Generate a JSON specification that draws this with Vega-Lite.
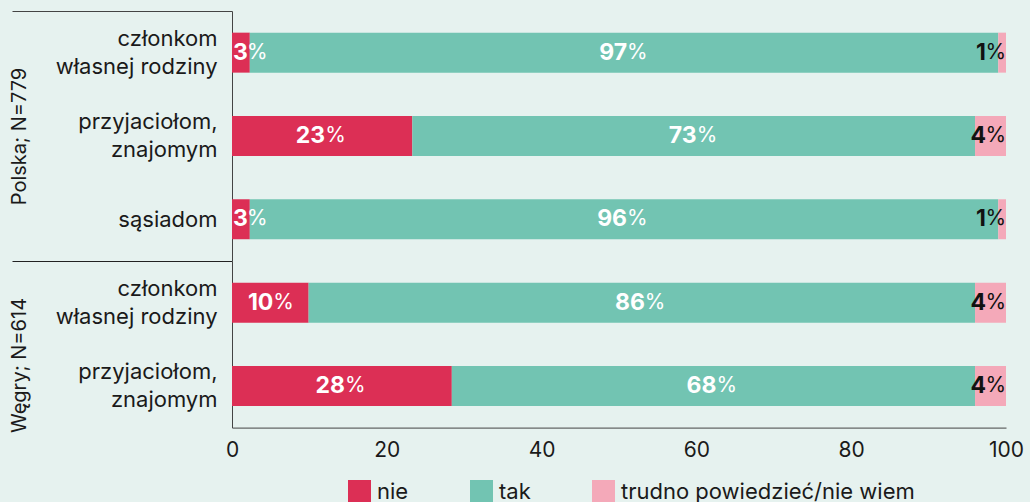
{
  "$schema": "https://vega.github.io/schema/vega-lite/v6.json",
  "background": "#e6f2ef",
  "padding": {"left": 9, "top": 0, "right": 6, "bottom": 0},
  "spacing": 0,
  "bounds": "flush",
  "config": {
    "font": "Inter",
    "view": {"stroke": null},
    "axis": {"grid": false, "labelFont": "Inter", "titleFont": "Inter"},
    "legend": {"labelFont": "Inter"}
  },
  "data": {
    "values": [
      {"country": "Polska", "item": "członkom|własnej rodziny", "resp": "nie", "value": 2.3, "lab": 3},
      {"country": "Polska", "item": "członkom|własnej rodziny", "resp": "tak", "value": 96.7, "lab": 97},
      {"country": "Polska", "item": "członkom|własnej rodziny", "resp": "trudno powiedzieć/nie wiem", "value": 1.0, "lab": 1},
      {"country": "Polska", "item": "przyjaciołom,|znajomym", "resp": "nie", "value": 23.3, "lab": 23},
      {"country": "Polska", "item": "przyjaciołom,|znajomym", "resp": "tak", "value": 72.7, "lab": 73},
      {"country": "Polska", "item": "przyjaciołom,|znajomym", "resp": "trudno powiedzieć/nie wiem", "value": 4.0, "lab": 4},
      {"country": "Polska", "item": "sąsiadom", "resp": "nie", "value": 2.3, "lab": 3},
      {"country": "Polska", "item": "sąsiadom", "resp": "tak", "value": 96.7, "lab": 96},
      {"country": "Polska", "item": "sąsiadom", "resp": "trudno powiedzieć/nie wiem", "value": 1.0, "lab": 1},
      {"country": "Węgry", "item": "członkom|własnej rodziny", "resp": "nie", "value": 9.9, "lab": 10},
      {"country": "Węgry", "item": "członkom|własnej rodziny", "resp": "tak", "value": 86.1, "lab": 86},
      {"country": "Węgry", "item": "członkom|własnej rodziny", "resp": "trudno powiedzieć/nie wiem", "value": 4.0, "lab": 4},
      {"country": "Węgry", "item": "przyjaciołom,|znajomym", "resp": "nie", "value": 28.4, "lab": 28},
      {"country": "Węgry", "item": "przyjaciołom,|znajomym", "resp": "tak", "value": 67.6, "lab": 68},
      {"country": "Węgry", "item": "przyjaciołom,|znajomym", "resp": "trudno powiedzieć/nie wiem", "value": 4.0, "lab": 4}
    ]
  },
  "resolve": {"scale": {"y": "independent", "x": "shared", "color": "shared"}},
  "vconcat": [
    {
      "width": 774,
      "height": {"step": 83.3},
      "transform": [{"filter": "datum.country === 'Polska'"}],
      "encoding": {
        "y": {
          "field": "item", "type": "nominal",
          "sort": ["członkom|własnej rodziny", "przyjaciołom,|znajomym", "sąsiadom"],
          "scale": {"paddingInner": 0, "paddingOuter": 0},
          "axis": {
            "title": "Polska; N=779", "titleFontSize": 20, "titleFontWeight": "normal", "titleColor": "#1a1a1a",
            "minExtent": 203, "maxExtent": 203, "titlePadding": 0,
            "labelFontSize": 22, "labelColor": "#1a1a1a", "labelLineHeight": 28, "labelLimit": 400,
            "labelExpr": "split(datum.label, '|')", "labelPadding": -205,
            "labelOffset": {"condition": {"test": "indexof('' + datum.label, '|') >= 0", "value": -14}, "value": 0},
            "tickBand": "extent", "tickSize": 220, "tickColor": "#444444", "tickWidth": 1,
            "tickOpacity": {"condition": {"test": "datum.index < 0", "value": 1}, "value": 0},
            "domainColor": "#444444"
          }
        }
      },
      "layer": [
        {
          "mark": {"type": "bar", "height": {"band": 0.48}},
          "encoding": {
            "x": {"field": "value", "type": "quantitative", "stack": "zero", "scale": {"domain": [0, 100], "nice": false}, "axis": null},
            "color": {"field": "resp", "type": "nominal",
              "scale": {"domain": ["nie", "tak", "trudno powiedzieć/nie wiem"], "range": ["#dc2f55", "#72c4b2", "#f4a9b9"]},
              "legend": {"orient": "none", "legendX": 116, "legendY": 469, "direction": "horizontal", "title": null, "symbolType": "square", "symbolSize": 529, "symbolStrokeWidth": 0, "labelFontSize": 22, "labelColor": "#1a1a1a", "labelLimit": 500, "columnPadding": 61, "labelOffset": 6}},
            "order": {"field": "resp", "type": "ordinal", "sort": "ascending"}
          }
        },
        {
          "mark": {"type": "text", "fontSize": 23, "fontWeight": "bold", "align": "right", "baseline": "middle", "dx": 3, "color": "white"},
          "encoding": {
            "x": {"field": "value", "type": "quantitative", "stack": "zero", "bandPosition": 0.5, "axis": null},
            "detail": {"field": "resp"},
            "order": {"field": "resp", "type": "ordinal", "sort": "ascending"},
            "text": {"field": "lab", "type": "quantitative"},
            "opacity": {"condition": {"test": "datum.resp === 'tak' || (datum.resp === 'nie' && datum.value >= 5)", "value": 1}, "value": 0}
          }
        },
        {
          "mark": {"type": "text", "fontSize": 21, "fontWeight": "normal", "align": "left", "baseline": "middle", "dx": 3, "color": "white"},
          "encoding": {
            "x": {"field": "value", "type": "quantitative", "stack": "zero", "bandPosition": 0.5, "axis": null},
            "detail": {"field": "resp"},
            "order": {"field": "resp", "type": "ordinal", "sort": "ascending"},
            "text": {"value": "%"},
            "opacity": {"condition": {"test": "datum.resp === 'tak' || (datum.resp === 'nie' && datum.value >= 5)", "value": 1}, "value": 0}
          }
        },
        {
          "mark": {"type": "text", "fontSize": 23, "fontWeight": "bold", "align": "left", "baseline": "middle", "dx": 1, "color": "white"},
          "encoding": {
            "x": {"field": "value", "type": "quantitative", "stack": "zero", "bandPosition": 0, "axis": null},
            "detail": {"field": "resp"},
            "order": {"field": "resp", "type": "ordinal", "sort": "ascending"},
            "text": {"field": "lab", "type": "quantitative"},
            "opacity": {"condition": {"test": "datum.resp === 'nie' && datum.value < 5", "value": 1}, "value": 0}
          }
        },
        {
          "mark": {"type": "text", "fontSize": 21, "fontWeight": "normal", "align": "left", "baseline": "middle", "dx": 15, "color": "white"},
          "encoding": {
            "x": {"field": "value", "type": "quantitative", "stack": "zero", "bandPosition": 0, "axis": null},
            "detail": {"field": "resp"},
            "order": {"field": "resp", "type": "ordinal", "sort": "ascending"},
            "text": {"value": "%"},
            "opacity": {"condition": {"test": "datum.resp === 'nie' && datum.value < 5", "value": 1}, "value": 0}
          }
        },
        {
          "mark": {"type": "text", "fontSize": 23, "fontWeight": "bold", "align": "right", "baseline": "middle", "dx": -20, "color": "#111111"},
          "encoding": {
            "x": {"field": "value", "type": "quantitative", "stack": "zero", "bandPosition": 1, "axis": null},
            "detail": {"field": "resp"},
            "order": {"field": "resp", "type": "ordinal", "sort": "ascending"},
            "text": {"field": "lab", "type": "quantitative"},
            "opacity": {"condition": {"test": "datum.resp === 'trudno powiedzieć/nie wiem'", "value": 1}, "value": 0}
          }
        },
        {
          "mark": {"type": "text", "fontSize": 21, "fontWeight": "normal", "align": "right", "baseline": "middle", "dx": 0, "color": "#111111"},
          "encoding": {
            "x": {"field": "value", "type": "quantitative", "stack": "zero", "bandPosition": 1, "axis": null},
            "detail": {"field": "resp"},
            "order": {"field": "resp", "type": "ordinal", "sort": "ascending"},
            "text": {"value": "%"},
            "opacity": {"condition": {"test": "datum.resp === 'trudno powiedzieć/nie wiem'", "value": 1}, "value": 0}
          }
        }
      ]
    },
    {
      "width": 774,
      "height": {"step": 83.3},
      "transform": [{"filter": "datum.country === 'Węgry'"}],
      "encoding": {
        "y": {
          "field": "item", "type": "nominal",
          "sort": ["członkom|własnej rodziny", "przyjaciołom,|znajomym"],
          "scale": {"paddingInner": 0, "paddingOuter": 0},
          "axis": {
            "title": "Węgry; N=614", "titleFontSize": 20, "titleFontWeight": "normal", "titleColor": "#1a1a1a",
            "minExtent": 203, "maxExtent": 203, "titlePadding": 0, "titleY": 104,
            "labelFontSize": 22, "labelColor": "#1a1a1a", "labelLineHeight": 28, "labelLimit": 400,
            "labelExpr": "split(datum.label, '|')", "labelPadding": -205,
            "labelOffset": {"condition": {"test": "indexof('' + datum.label, '|') >= 0", "value": -14}, "value": 0},
            "tickBand": "extent", "tickSize": 220, "tickColor": "#222222", "tickWidth": 1,
            "tickOpacity": {"condition": {"test": "datum.index < 0", "value": 1}, "value": 0},
            "domainColor": "#444444"
          }
        }
      },
      "layer": [
        {
          "mark": {"type": "bar", "height": {"band": 0.48}},
          "encoding": {
            "x": {"field": "value", "type": "quantitative", "stack": "zero", "scale": {"domain": [0, 100], "nice": false},
              "axis": {"title": null, "values": [0, 20, 40, 60, 80, 100], "ticks": false, "labelFontSize": 21, "labelColor": "#1a1a1a", "labelPadding": 12, "labelFlush": false, "domainColor": "#444444", "grid": false}},
            "color": {"field": "resp", "type": "nominal",
              "scale": {"domain": ["nie", "tak", "trudno powiedzieć/nie wiem"], "range": ["#dc2f55", "#72c4b2", "#f4a9b9"]},
              "legend": {"orient": "none", "legendX": 116, "legendY": 469, "direction": "horizontal", "title": null, "symbolType": "square", "symbolSize": 529, "symbolStrokeWidth": 0, "labelFontSize": 22, "labelColor": "#1a1a1a", "labelLimit": 500, "columnPadding": 61, "labelOffset": 6}},
            "order": {"field": "resp", "type": "ordinal", "sort": "ascending"}
          }
        },
        {
          "mark": {"type": "text", "fontSize": 23, "fontWeight": "bold", "align": "right", "baseline": "middle", "dx": 3, "color": "white"},
          "encoding": {
            "x": {"field": "value", "type": "quantitative", "stack": "zero", "bandPosition": 0.5,
              "axis": {"title": null, "values": [0, 20, 40, 60, 80, 100], "ticks": false, "labelFontSize": 21, "labelColor": "#1a1a1a", "labelPadding": 12, "labelFlush": false, "domainColor": "#444444", "grid": false}},
            "detail": {"field": "resp"},
            "order": {"field": "resp", "type": "ordinal", "sort": "ascending"},
            "text": {"field": "lab", "type": "quantitative"},
            "opacity": {"condition": {"test": "datum.resp === 'tak' || (datum.resp === 'nie' && datum.value >= 5)", "value": 1}, "value": 0}
          }
        },
        {
          "mark": {"type": "text", "fontSize": 21, "fontWeight": "normal", "align": "left", "baseline": "middle", "dx": 3, "color": "white"},
          "encoding": {
            "x": {"field": "value", "type": "quantitative", "stack": "zero", "bandPosition": 0.5,
              "axis": {"title": null, "values": [0, 20, 40, 60, 80, 100], "ticks": false, "labelFontSize": 21, "labelColor": "#1a1a1a", "labelPadding": 12, "labelFlush": false, "domainColor": "#444444", "grid": false}},
            "detail": {"field": "resp"},
            "order": {"field": "resp", "type": "ordinal", "sort": "ascending"},
            "text": {"value": "%"},
            "opacity": {"condition": {"test": "datum.resp === 'tak' || (datum.resp === 'nie' && datum.value >= 5)", "value": 1}, "value": 0}
          }
        },
        {
          "mark": {"type": "text", "fontSize": 23, "fontWeight": "bold", "align": "right", "baseline": "middle", "dx": -20, "color": "#111111"},
          "encoding": {
            "x": {"field": "value", "type": "quantitative", "stack": "zero", "bandPosition": 1,
              "axis": {"title": null, "values": [0, 20, 40, 60, 80, 100], "ticks": false, "labelFontSize": 21, "labelColor": "#1a1a1a", "labelPadding": 12, "labelFlush": false, "domainColor": "#444444", "grid": false}},
            "detail": {"field": "resp"},
            "order": {"field": "resp", "type": "ordinal", "sort": "ascending"},
            "text": {"field": "lab", "type": "quantitative"},
            "opacity": {"condition": {"test": "datum.resp === 'trudno powiedzieć/nie wiem'", "value": 1}, "value": 0}
          }
        },
        {
          "mark": {"type": "text", "fontSize": 21, "fontWeight": "normal", "align": "right", "baseline": "middle", "dx": 0, "color": "#111111"},
          "encoding": {
            "x": {"field": "value", "type": "quantitative", "stack": "zero", "bandPosition": 1,
              "axis": {"title": null, "values": [0, 20, 40, 60, 80, 100], "ticks": false, "labelFontSize": 21, "labelColor": "#1a1a1a", "labelPadding": 12, "labelFlush": false, "domainColor": "#444444", "grid": false}},
            "detail": {"field": "resp"},
            "order": {"field": "resp", "type": "ordinal", "sort": "ascending"},
            "text": {"value": "%"},
            "opacity": {"condition": {"test": "datum.resp === 'trudno powiedzieć/nie wiem'", "value": 1}, "value": 0}
          }
        }
      ]
    }
  ]
}
